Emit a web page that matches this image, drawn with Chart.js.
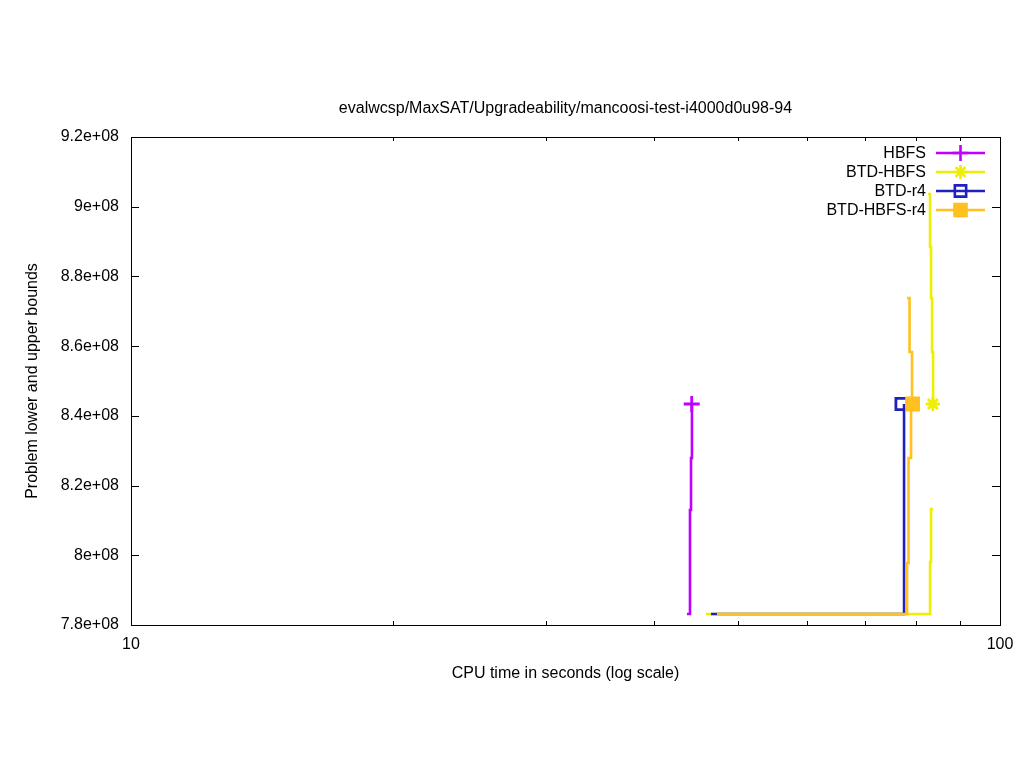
<!DOCTYPE html>
<html>
<head>
<meta charset="utf-8">
<script src="https://cdn.jsdelivr.net/npm/chart.js@4.4.1/dist/chart.umd.min.js"></script>
<style>
html, body { margin: 0; padding: 0; background: #fff; }
</style>
</head>
<body>
<canvas id="boundsChart" width="1024" height="768"></canvas>
<script>
/* values */
const solverNames  = ['HBFS', 'BTD-HBFS', 'BTD-r4', 'BTD-HBFS-r4'];
const solverColors = ['rgb(192, 0, 255)', 'rgb(238, 238, 0)', 'rgb(32, 32, 192)', 'rgb(255, 192, 32)'];

// lower bound steps (CPU seconds / bound)
const hbfsLowTime = [43.63, 43.98, 44.10, 44.21];
const hbfsLowVal  = [7.8316e8, 8.1299e8, 8.2791e8, 8.4340e8];

const btdHbfsLowTime = [45.89, 83.08, 83.30, 83.75];
const btdHbfsLowVal  = [7.8316e8, 7.9807e8, 8.1328e8, 8.1328e8];
// upper bound steps
const btdHbfsUpTime = [82.64, 83.08, 83.30, 83.52, 83.75];
const btdHbfsUpVal  = [9.0365e8, 8.8844e8, 8.7381e8, 8.5832e8, 8.4340e8];

const btdR4LowTime = [46.50, 77.55];
const btdR4LowVal  = [7.8316e8, 8.4340e8];

const btdHbfsR4LowTime = [47.24, 78.17, 78.48, 79.00];
const btdHbfsR4LowVal  = [7.8316e8, 7.9779e8, 8.2791e8, 8.4340e8];
const btdHbfsR4UpTime = [78.17, 78.69, 79.21];
const btdHbfsR4UpVal  = [8.7381e8, 8.5832e8, 8.4340e8];

// final point markers
const markerTime = [44.18, 83.70, 77.04, 79.32];
const markerVal  = [8.4340e8, 8.4340e8, 8.4340e8, 8.4340e8];

const xTickValues  = [10, 100];
const xTickLabels  = ['10', '100'];
const xMinorValues = [20, 30, 40, 50, 60, 70, 80, 90];
const yTickValues  = [7.8e8, 8.0e8, 8.2e8, 8.4e8, 8.6e8, 8.8e8, 9.0e8, 9.2e8];
const yTickLabels  = ['7.8e+08', '8e+08', '8.2e+08', '8.4e+08', '8.6e+08', '8.8e+08', '9e+08', '9.2e+08'];

const FONT = '"Liberation Sans", Arial, sans-serif';
const FSIZE = 16;
Chart.defaults.font.family = FONT;
Chart.defaults.font.size = FSIZE;
Chart.defaults.color = '#000';

function pts(times, vals) {
    return times.map((t, i) => ({x: t, y: vals[i]}));
}
// bound pieces separated by gaps, marker as last isolated point
function series(parts, mT, mV) {
    let data = [];
    parts.forEach(p => {
        data = data.concat(p);
        data.push({x: p[p.length - 1].x, y: null});
    });
    data.push({x: mT, y: mV});
    return data;
}

const allData = [
    series([pts(hbfsLowTime, hbfsLowVal)], markerTime[0], markerVal[0]),
    series([pts(btdHbfsLowTime, btdHbfsLowVal), pts(btdHbfsUpTime, btdHbfsUpVal)], markerTime[1], markerVal[1]),
    series([pts(btdR4LowTime, btdR4LowVal)], markerTime[2], markerVal[2]),
    series([pts(btdHbfsR4LowTime, btdHbfsR4LowVal), pts(btdHbfsR4UpTime, btdHbfsR4UpVal)], markerTime[3], markerVal[3])
];
const pointStyles = ['cross', 'star', 'rect', 'rect'];
const pointSizes  = [8, 7, 8, 8.5];
const pointFills  = [solverColors[0], solverColors[1], 'rgba(0,0,0,0)', solverColors[3]];

const datasets = solverNames.map((name, i) => ({
    label: name,
    data: allData[i],
    borderColor: solverColors[i],
    backgroundColor: pointFills[i],
    borderWidth: 2.6,
    stepped: true,
    spanGaps: false,
    pointStyle: pointStyles[i],
    pointBorderWidth: 2.8,
    pointBorderColor: solverColors[i],
    pointBackgroundColor: pointFills[i],
    pointRadius: ctx => ctx.dataIndex === ctx.dataset.data.length - 1 ? pointSizes[i] : 0,
    markerRadius: pointSizes[i],
    order: solverNames.length - i
}));

// gnuplot style frame with inward ticks on all sides
const frameTicks = {
    id: 'frameTicks',
    afterDatasetsDraw(chart) {
        const {ctx, chartArea: a, scales: {x, y}} = chart;
        ctx.save();
        ctx.strokeStyle = '#000';
        ctx.lineWidth = 1;
        ctx.strokeRect(a.left + 0.5, a.top + 0.5, a.right - a.left, a.bottom - a.top);
        ctx.beginPath();
        const xt = (v, len) => {
            const px = Math.round(x.getPixelForValue(v)) + 0.5;
            ctx.moveTo(px, a.bottom); ctx.lineTo(px, a.bottom - len);
            ctx.moveTo(px, a.top); ctx.lineTo(px, a.top + len);
        };
        xTickValues.forEach(v => xt(v, 8));
        xMinorValues.forEach(v => xt(v, 4));
        yTickValues.forEach(v => {
            const py = Math.round(y.getPixelForValue(v)) + 0.5;
            ctx.moveTo(a.left, py); ctx.lineTo(a.left + 8, py);
            ctx.moveTo(a.right, py); ctx.lineTo(a.right - 8, py);
        });
        ctx.stroke();
        ctx.restore();
    }
};

// key in the top right corner: text, then line sample with marker
const keyBox = {
    id: 'keyBox',
    afterDraw(chart) {
        const {ctx, chartArea: a} = chart;
        ctx.save();
        ctx.font = FSIZE + 'px ' + FONT;
        ctx.textAlign = 'right';
        ctx.textBaseline = 'middle';
        chart.data.datasets.forEach((ds, i) => {
            const yy = a.top + 16 + i * 19;
            ctx.fillStyle = '#000';
            ctx.fillText(ds.label, a.right - 74, yy + 1);
            ctx.strokeStyle = ds.borderColor;
            ctx.lineWidth = 2.6;
            ctx.beginPath();
            ctx.moveTo(a.right - 64, yy);
            ctx.lineTo(a.right - 15, yy);
            ctx.stroke();
            ctx.fillStyle = ds.pointBackgroundColor;
            Chart.helpers.drawPoint(ctx, {pointStyle: ds.pointStyle, radius: ds.markerRadius, borderWidth: 2.8, rotation: 0}, a.right - 39.5, yy);
        });
        ctx.restore();
    }
};

let boundsCtx = document.getElementById('boundsChart').getContext('2d');
let boundsChart = new Chart(boundsCtx, {
    type: 'line',
    data: { datasets: datasets },
    plugins: [frameTicks, keyBox],
    options: {
        responsive: false,
        animation: false,
        layout: { padding: { left: 0, right: 24, top: 0, bottom: 0 } },
        plugins: {
            legend: { display: false },
            tooltip: { enabled: false },
            title: {
                display: true,
                fullSize: false,
                text: 'evalwcsp/MaxSAT/Upgradeability/mancoosi-test-i4000d0u98-94',
                color: '#000',
                font: { size: FSIZE, weight: 'normal' },
                padding: { top: 98.9, bottom: 18.9 }
            }
        },
        scales: {
            x: {
                type: 'logarithmic',
                min: 10,
                max: 100,
                grid: { display: false, drawTicks: false },
                border: { display: false },
                afterBuildTicks: s => { s.ticks = xTickValues.map(v => ({value: v})); },
                afterFit: s => { s.height = 143; },
                ticks: {
                    autoSkip: false,
                    maxRotation: 0,
                    padding: 10,
                    callback: (v, i) => xTickLabels[i]
                },
                title: {
                    display: true,
                    text: 'CPU time in seconds (log scale)',
                    padding: { top: 0, bottom: 85 }
                }
            },
            y: {
                type: 'linear',
                min: 7.8e8,
                max: 9.2e8,
                grid: { display: false, drawTicks: false },
                border: { display: false },
                afterBuildTicks: s => { s.ticks = yTickValues.map(v => ({value: v})); },
                afterFit: s => { s.width = 131; },
                ticks: {
                    autoSkip: false,
                    padding: 12,
                    callback: (v, i) => yTickLabels[i]
                },
                title: {
                    display: true,
                    text: 'Problem lower and upper bounds',
                    padding: { top: 23, bottom: 0 }
                }
            }
        }
    }
});
</script>
</body>
</html>
